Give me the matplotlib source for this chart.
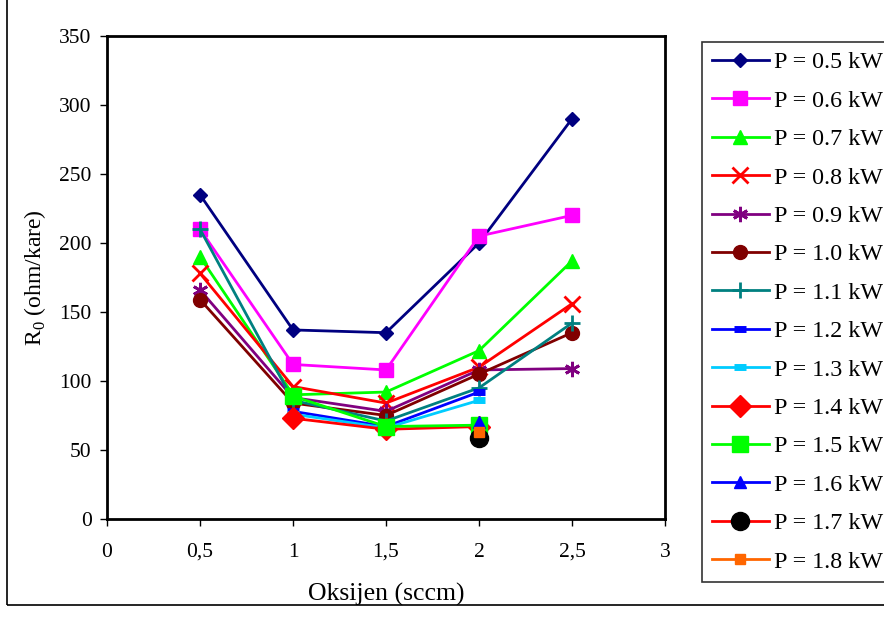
import numpy as np
import matplotlib.pyplot as plt
from matplotlib.patches import Rectangle

plt.rcParams["font.family"] = ["Liberation Serif", "DejaVu Serif"]
plt.rcParams["mathtext.fontset"] = "custom"
plt.rcParams["mathtext.rm"] = "Liberation Serif"

nan = np.nan
oksijen = [0.5, 1.0, 1.5, 2.0, 2.5]

p05 = [235, 137, 135, 200, 290]
p06 = [210, 112, 108, 205, 220]
p07 = [190, 90, 92, 122, 187]
p08 = [178, 96, 84, 110, 156]
p09 = [166, 88, 78, 108, 109]
p10 = [159, 84, 75, 105, 135]
p11 = [210, 86, 71, 95, 142]
p12 = [nan, 78, 67, 92, nan]
p13 = [nan, 76, 66, 86, nan]
p14 = [nan, 73, 65, 67, nan]
p15 = [nan, 89, 67, 68, nan]
p16 = [nan, nan, nan, 70, nan]
p17 = [nan, nan, nan, 59, nan]
p18 = [nan, nan, nan, 63, nan]

labels = ['P = 0.5 kW', 'P = 0.6 kW', 'P = 0.7 kW', 'P = 0.8 kW', 'P = 0.9 kW',
          'P = 1.0 kW', 'P = 1.1 kW', 'P = 1.2 kW', 'P = 1.3 kW', 'P = 1.4 kW',
          'P = 1.5 kW', 'P = 1.6 kW', 'P = 1.7 kW', 'P = 1.8 kW']
series = [p05, p06, p07, p08, p09, p10, p11, p12, p13, p14, p15, p16, p17, p18]

# (line colour, marker, marker colour, marker size, marker edge width)
styles = [
    ('#000080', 'D', '#000080', 7, 1),
    ('#ff00ff', 's', '#ff00ff', 10, 1),
    ('#00ff00', '^', '#00ff00', 10, 1),
    ('#ff0000', 'x', '#ff0000', 11, 2),
    ('#800080', (6, 2, 0), '#800080', 11, 2),
    ('#800000', 'o', '#800000', 10, 1),
    ('#008080', '+', '#008080', 11, 2),
    ('#0000ff', '_', '#0000ff', 8, 5),
    ('#00ccff', '_', '#00ccff', 8, 5),
    ('#ff0000', 'D', '#ff0000', 11, 1),
    ('#00ff00', 's', '#00ff00', 11, 1),
    ('#0000ff', '^', '#0000ff', 9, 1),
    ('#ff0000', 'o', '#000000', 13, 1),
    ('#ff6600', 's', '#ff6600', 7, 1),
]

fig = plt.figure(figsize=(8.84, 6.21), dpi=100)
ax = fig.add_axes([107/884, 1-519/621, 558/884, 483/621])

for vals, lab, (lc, mk, mc, ms, mew) in zip(series, labels, styles):
    ax.plot(oksijen, vals, color=lc, lw=2, marker=mk, markersize=ms,
            markerfacecolor=mc, markeredgecolor=mc, markeredgewidth=mew, label=lab)

ax.set_xlim(0, 3)
ax.set_ylim(0, 350)
ax.set_xticks([0, 0.5, 1, 1.5, 2, 2.5, 3])
ax.set_xticklabels(['0', '0,5', '1', '1,5', '2', '2,5', '3'])
ax.set_yticks(range(0, 351, 50))
ax.tick_params(labelsize=15.5, direction='out', length=5, width=1)
ax.tick_params(axis='x', pad=12)
ax.tick_params(axis='y', pad=6)
for sp in ax.spines.values():
    sp.set_linewidth(2)
ax.set_xlabel('Oksijen (sccm)', fontsize=18.5, labelpad=15)
ax.set_ylabel(r'R$_\mathregular{0}$ (ohm/kare)', fontsize=17, labelpad=8)

leg = fig.legend(loc='upper left', bbox_to_anchor=(702/884, 1-42/621), fontsize=17.3,
                 frameon=True, fancybox=False, edgecolor='black', handlelength=2.4,
                 labelspacing=0.69, handletextpad=0.2, borderpad=0.4, borderaxespad=0)
leg.get_frame().set_linewidth(1.2)

# outer chart frame
fig.patches.append(Rectangle((7/884, 1-605/621), 2, 2, transform=fig.transFigure,
                             fill=False, edgecolor='black', lw=1.2))

fig.savefig('out.png', dpi=100)
